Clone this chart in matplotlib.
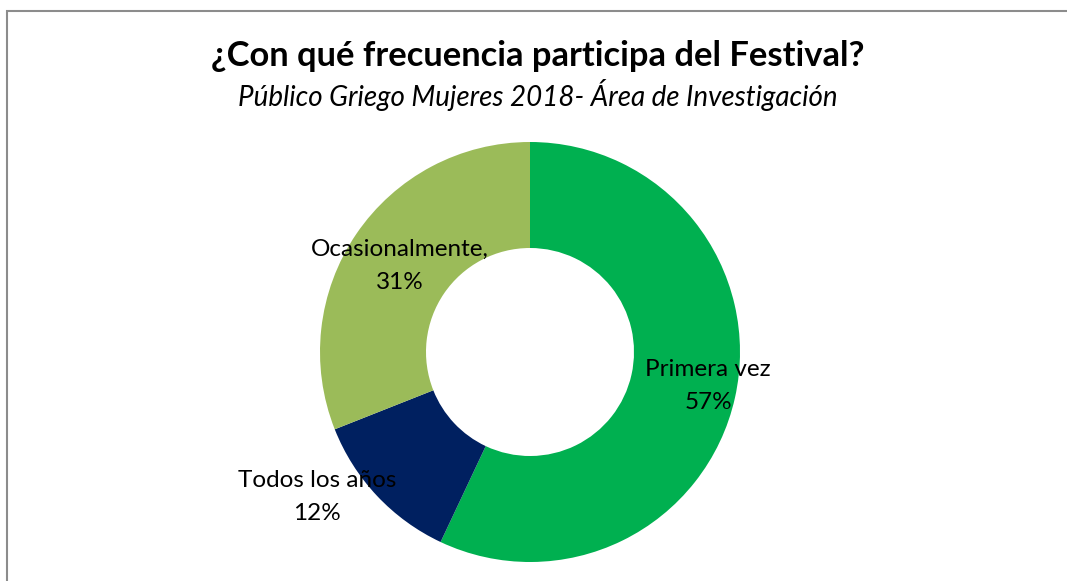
import matplotlib
matplotlib.use("Agg")
import matplotlib.pyplot as plt
from matplotlib.patches import Rectangle

# Datos
categorias = ['Primera vez', 'Todos los años', 'Ocasionalmente,']
valores = [57, 12, 31]
colores = ['#00B050', '#002060', '#9BBB59']
etiquetas = ['Primera vez\n57%', 'Todos los años\n12%', 'Ocasionalmente,\n31%']

titulo = '¿Con qué frecuencia participa del Festival?'
subtitulo = 'Público Griego Mujeres 2018- Área de Investigación'

plt.rcParams['font.family'] = ['Lato', 'DejaVu Sans']

W, H = 1067, 581
fig = plt.figure(figsize=(W / 100, H / 100), dpi=100)
ax = fig.add_axes([0, 0, 1, 1])

# marco del gráfico
ax.add_patch(Rectangle((6.5, -30), 1200, H - 10.5 + 30, fill=False,
                       edgecolor='#8c8c8c', linewidth=1.5))

# anillo
centro = (530, H - 352)
radio = 210
ax.pie(valores, colors=colores, startangle=90, counterclock=False,
       center=centro, radius=radio, frame=True,
       wedgeprops=dict(width=106, linewidth=0))
ax.set_xlim(0, W)
ax.set_ylim(0, H)
ax.set_aspect('equal')
ax.axis('off')

# etiquetas de datos
pos_etiquetas = [(708, H - 386), (317, H - 497), (400, H - 266)]
for txt, (x, y) in zip(etiquetas, pos_etiquetas):
    ax.text(x, y, txt, ha='center', va='center', fontsize=17.5,
            color='black', linespacing=1.75)

fig.text(538 / W, 1 - 56 / H, titulo, ha='center', va='center',
         fontsize=24.8, fontweight='bold', color='black')
fig.text(538 / W, 1 - 95 / H, subtitulo, ha='center', va='center',
         fontsize=20, fontstyle='italic', color='black')

fig.savefig('out.png', dpi=100, facecolor='white')
